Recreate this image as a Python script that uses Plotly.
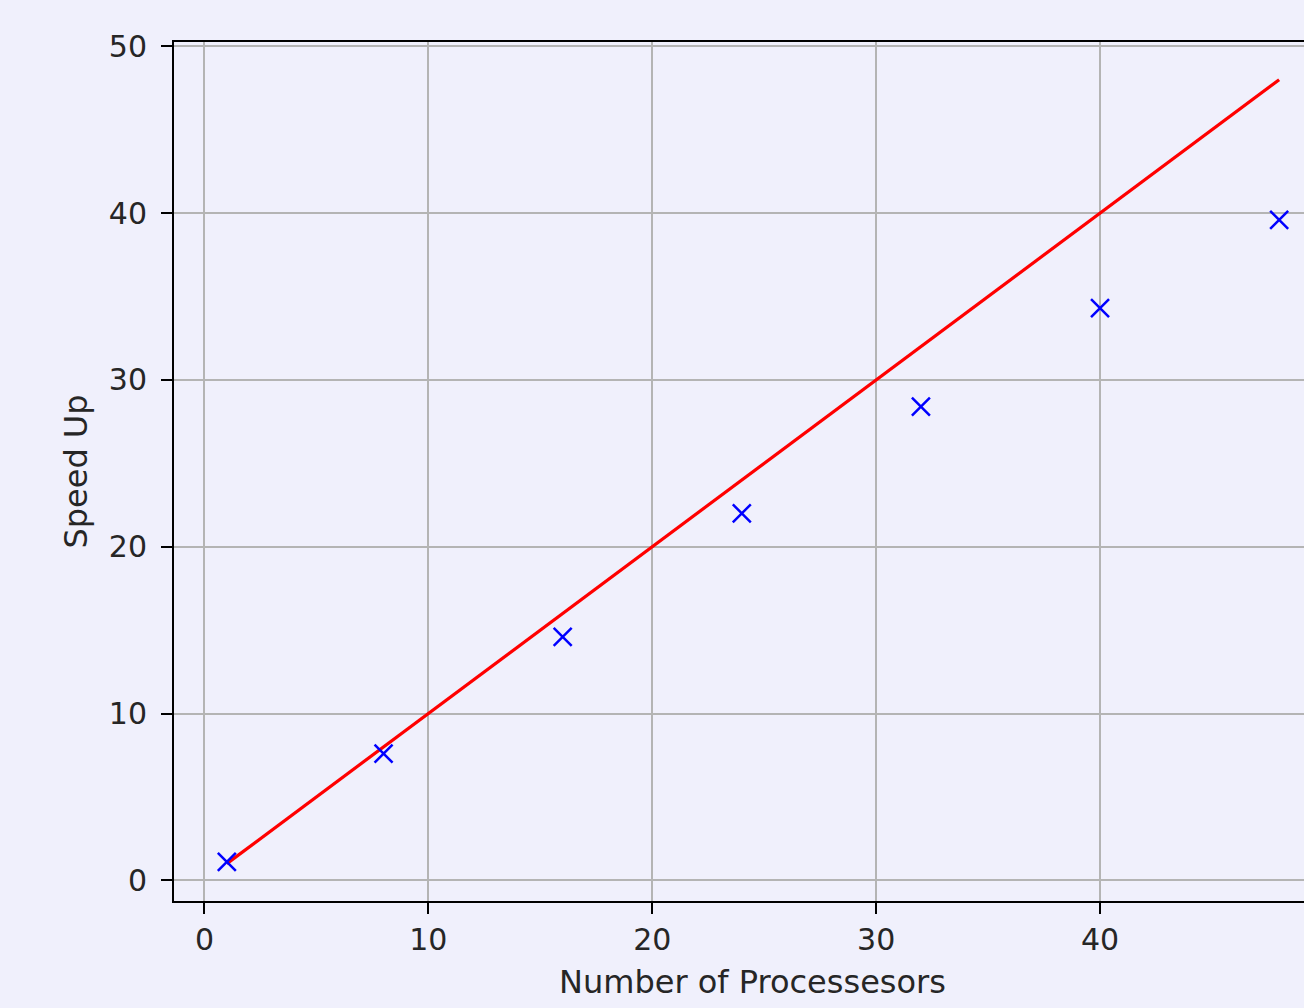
import plotly.graph_objects as go

# Data
processors = [1, 8, 16, 24, 32, 40, 48]
speedup = [1.1, 7.6, 14.6, 22.0, 28.4, 34.3, 39.6]
ideal_x = [1, 48]
ideal_y = [1, 48]
xticks = [0, 10, 20, 30, 40]
yticks = [0, 10, 20, 30, 40, 50]

BG = "#f0f0fc"
FONT = "DejaVu Sans"
TICK_FS = 30
TITLE_FS = 32
TXT = "#262626"

fig = go.Figure()
fig.add_trace(go.Scatter(x=ideal_x, y=ideal_y, mode="lines",
                         line=dict(color="#ff0000", width=3.2), showlegend=False))
fig.add_trace(go.Scatter(x=processors, y=speedup, mode="markers",
                         marker=dict(symbol="x-thin", size=18, color="#0000ff",
                                     line=dict(color="#0000ff", width=2.5)),
                         showlegend=False))

fig.update_layout(
    width=1304, height=1008,
    margin=dict(l=174, r=0, t=42, b=107),
    paper_bgcolor=BG, plot_bgcolor=BG,
    font=dict(family=FONT, size=TICK_FS, color=TXT),
    xaxis=dict(range=[-1.36, 49.11], tickvals=xticks, ticktext=[str(v) for v in xticks],
               showgrid=True, gridcolor="#b4b4b4", gridwidth=2, zeroline=False,
               showline=True, linecolor="black", linewidth=2, mirror=True,
               ticks="outside", ticklen=11, tickwidth=2, tickcolor="black",
               ticklabelstandoff=0, tickfont=dict(size=TICK_FS, color=TXT)),
    yaxis=dict(range=[-1.24, 50.26], tickvals=yticks, ticktext=[str(v) for v in yticks],
               showgrid=True, gridcolor="#b4b4b4", gridwidth=2, zeroline=False,
               showline=True, linecolor="black", linewidth=2, mirror=False,
               ticks="outside", ticklen=11, tickwidth=2, tickcolor="black",
               ticklabelstandoff=8, tickfont=dict(size=TICK_FS, color=TXT),
               title=dict(text="Speed Up", standoff=12, font=dict(size=TITLE_FS, color=TXT))),
)

fig.add_annotation(x=24.5, xref="x", y=0, yref="paper", yanchor="top",
                   yshift=-60, text="Number of Processesors", showarrow=False,
                   font=dict(size=TITLE_FS, color=TXT))

fig.write_html("out.html", config={"displayModeBar": False},
               post_script="document.body.style.margin='0';document.body.style.overflow='hidden';")
